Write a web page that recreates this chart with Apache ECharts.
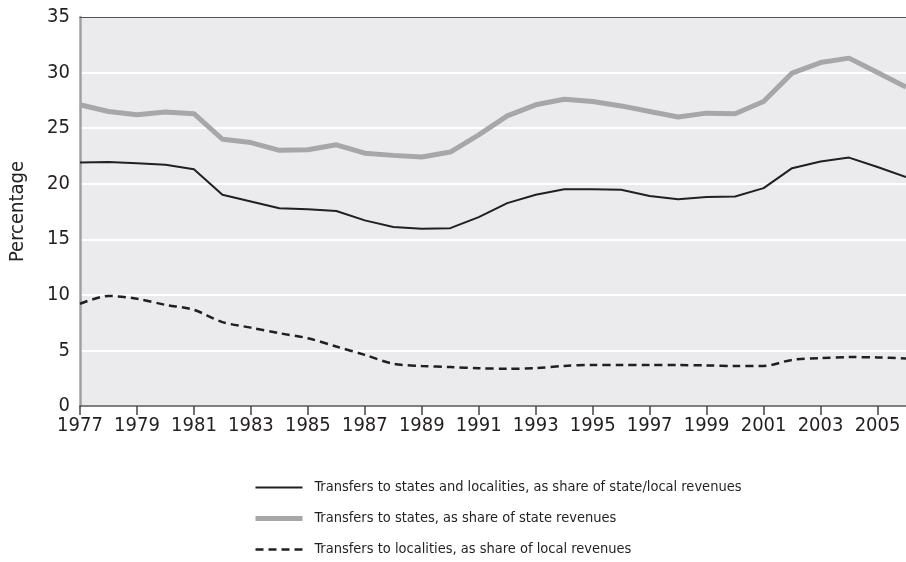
<!DOCTYPE html>
<html>
<head>
<meta charset="utf-8">
<script src="https://cdn.jsdelivr.net/npm/echarts@6/dist/echarts.min.js"></script>
<style>
  html, body { margin: 0; padding: 0; background: #fff; }
  #chart { width: 906px; height: 562px; }
</style>
</head>
<body>
<div id="chart"></div>
<script>
// years on the x axis
var years = [];
for (var y = 1977; y <= 2006; y++) years.push(String(y));

// Transfers to states and localities, as share of state/local revenues
var totalShare = [21.9, 21.95, 21.85, 21.7, 21.3, 19.0, 18.4, 17.8, 17.7, 17.55,
  16.7, 16.1, 15.95, 16.0, 17.0, 18.25, 19.0, 19.5, 19.5, 19.45,
  18.9, 18.6, 18.8, 18.85, 19.6, 21.4, 22.0, 22.35, 21.5, 20.6];

// Transfers to states, as share of state revenues
var stateShare = [27.1, 26.5, 26.2, 26.45, 26.3, 24.0, 23.7, 23.0, 23.05, 23.5,
  22.75, 22.55, 22.4, 22.85, 24.4, 26.1, 27.1, 27.6, 27.4, 27.0,
  26.5, 26.0, 26.35, 26.3, 27.4, 29.95, 30.9, 31.3, 30.0, 28.7];

// Transfers to localities, as share of local revenues
var localShare = [9.2, 9.9, 9.65, 9.1, 8.65, 7.55, 7.05, 6.55, 6.1, 5.35,
  4.6, 3.8, 3.6, 3.5, 3.4, 3.35, 3.4, 3.6, 3.7, 3.68,
  3.7, 3.68, 3.65, 3.6, 3.6, 4.15, 4.3, 4.4, 4.37, 4.28];

var names = [
  'Transfers to states and localities, as share of state/local revenues',
  'Transfers to states, as share of state revenues',
  'Transfers to localities, as share of local revenues'
];

var font = '"DejaVu Sans Condensed", "Liberation Sans Narrow", sans-serif';
var ink = '#231f20';
var grey = '#a7a7a9';
var chart = echarts.init(document.getElementById('chart'));

var option = {
  backgroundColor: '#ffffff',
  animation: false,
  textStyle: { fontFamily: font },
  grid: {
    left: 80, top: 17, width: 831, bottom: 156,
    show: true, backgroundColor: '#ebebed', borderWidth: 0
  },
  legend: {
    orient: 'vertical',
    left: 253, top: 480,
    padding: 0,
    itemWidth: 47, itemHeight: 14, itemGap: 16,
    itemStyle: { opacity: 0 },
    textStyle: { fontFamily: font, fontSize: 14.5, color: ink, padding: [0, 0, 0, 7] },
    data: [
      { name: names[0], lineStyle: { width: 2, color: ink } },
      { name: names[1], lineStyle: { width: 5, color: grey } },
      { name: names[2], lineStyle: { width: 2.5, color: ink, type: [8, 5] } }
    ]
  },
  xAxis: [{
    type: 'category',
    data: years,
    boundaryGap: false,
    axisLine: { lineStyle: { color: '#555555', width: 1.5 } },
    axisTick: { show: true, length: 9, interval: 1, lineStyle: { color: '#444444', width: 1.5 } },
    axisLabel: { interval: 1, margin: 10, fontSize: 20, color: ink, fontFamily: font },
    splitLine: { show: false }
  }, {
    type: 'category',
    data: years,
    boundaryGap: false,
    position: 'top',
    axisLine: { lineStyle: { color: '#555555', width: 1.2 } },
    axisTick: { show: false },
    axisLabel: { show: false }
  }],
  yAxis: {
    type: 'value',
    min: 0, max: 35, interval: 5,
    name: 'Percentage',
    nameLocation: 'middle',
    nameGap: 52,
    nameRotate: 90,
    nameTextStyle: { fontSize: 20, color: ink, fontFamily: font },
    axisLine: { show: true, lineStyle: { color: '#a0a0a2', width: 2.5 } },
    axisTick: { show: false },
    axisLabel: { margin: 10, fontSize: 20, color: ink, fontFamily: font },
    splitLine: { show: true, lineStyle: { color: '#ffffff', width: 2 } }
  },
  series: [{
    name: names[0],
    type: 'line',
    data: totalShare,
    symbol: 'none',
    z: 3,
    lineStyle: { color: ink, width: 2 },
    itemStyle: { color: ink }
  }, {
    name: names[1],
    type: 'line',
    data: stateShare,
    symbol: 'none',
    z: 2,
    lineStyle: { color: grey, width: 5 },
    itemStyle: { color: grey }
  }, {
    name: names[2],
    type: 'line',
    data: localShare,
    symbol: 'none',
    smooth: 0.3,
    z: 3,
    lineStyle: { color: ink, width: 2.5, type: [8, 5] },
    itemStyle: { color: ink }
  }]
};

chart.setOption(option);
</script>
</body>
</html>
